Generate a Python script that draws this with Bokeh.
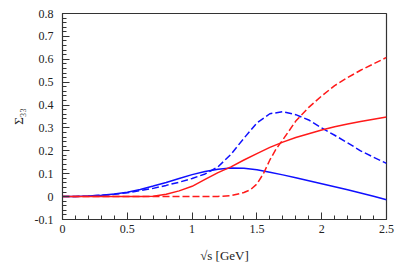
from bokeh.plotting import figure
from bokeh.models import FixedTicker, Range1d
from bokeh.embed import file_html
from bokeh.resources import INLINE

# data
x_grid = [0.0, 0.1, 0.2, 0.3, 0.4, 0.5, 0.6, 0.7, 0.8, 0.9, 1.0, 1.1, 1.2, 1.3,
          1.4, 1.5, 1.6, 1.7, 1.8, 1.9, 2.0, 2.1, 2.2, 2.3, 2.4, 2.5]
blue_solid = [0.0, 0.001, 0.003, 0.006, 0.011, 0.019, 0.031, 0.046, 0.062, 0.079,
              0.096, 0.110, 0.120, 0.125, 0.124, 0.117, 0.106, 0.095, 0.082, 0.069,
              0.056, 0.043, 0.030, 0.016, 0.002, -0.014]
blue_dashed = [0.0, 0.001, 0.003, 0.006, 0.010, 0.017, 0.026, 0.036, 0.049, 0.063,
               0.079, 0.099, 0.130, 0.185, 0.255, 0.322, 0.362, 0.371, 0.358, 0.335,
               0.300, 0.268, 0.235, 0.200, 0.172, 0.145]
red_solid = [0.0, 0.0, 0.0, 0.0, 0.0, 0.0, 0.0005, 0.002, 0.010, 0.025,
             0.045, 0.075, 0.105, 0.130, 0.160, 0.188, 0.215, 0.238, 0.258, 0.275,
             0.291, 0.305, 0.317, 0.328, 0.338, 0.348]
x_red_dashed = [0.0, 0.5, 1.0, 1.2, 1.3, 1.4, 1.45, 1.5, 1.55, 1.6, 1.65, 1.7,
                1.8, 1.9, 2.0, 2.1, 2.2, 2.3, 2.4, 2.5]
red_dashed = [0.0, 0.0, 0.0, 0.001, 0.004, 0.018, 0.030, 0.055, 0.100, 0.160, 0.210,
              0.248, 0.330, 0.390, 0.440, 0.485, 0.520, 0.552, 0.580, 0.608]

x_ticks = [0, 0.5, 1.0, 1.5, 2.0, 2.5]
x_tick_labels = ["0", "0.5", "1", "1.5", "2", "2.5"]
y_ticks = [-0.1, 0.0, 0.1, 0.2, 0.3, 0.4, 0.5, 0.6, 0.7, 0.8]
y_tick_labels = ["-0.1", "0", "0.1", "0.2", "0.3", "0.4", "0.5", "0.6", "0.7", "0.8"]

FONT = "Liberation Serif"

p = figure(width=405, height=265, output_backend="svg", toolbar_location=None,
           x_range=Range1d(0, 2.5), y_range=Range1d(-0.1, 0.8),
           min_border_left=62, min_border_right=19, min_border_top=13,
           min_border_bottom=46)
p.frame_width = 324
p.frame_height = 206

p.line(x_grid, blue_solid, line_color="#1010ff", line_width=1.5)
p.line(x_grid, blue_dashed, line_color="#1010ff", line_width=1.5, line_dash="7 3")
p.line(x_grid, red_solid, line_color="#ff1a1a", line_width=1.5)
p.line(x_red_dashed, red_dashed, line_color="#ff1a1a", line_width=1.5, line_dash="7 3")

p.xgrid.visible = False
p.ygrid.visible = False
p.outline_line_color = "#333333"
p.outline_line_width = 1.2

minor_x = [round(0.1 * i, 2) for i in range(26) if i % 5 != 0]
minor_y = [round(-0.1 + 0.02 * i, 3) for i in range(46) if i % 5 != 0]
p.xaxis.ticker = FixedTicker(ticks=x_ticks, minor_ticks=minor_x)
p.yaxis.ticker = FixedTicker(ticks=y_ticks, minor_ticks=minor_y)
p.xaxis.major_label_overrides = {t: l for t, l in zip(x_ticks, x_tick_labels)}
p.yaxis.major_label_overrides = {t: l for t, l in zip(y_ticks, y_tick_labels)}

for ax in (p.xaxis, p.yaxis):
    ax.major_tick_in = 7
    ax.major_tick_out = 0
    ax.minor_tick_in = 4
    ax.minor_tick_out = 0
    ax.axis_line_color = "#333333"
    ax.major_tick_line_color = "#333333"
    ax.minor_tick_line_color = "#333333"
    ax.major_label_text_font = FONT
    ax.major_label_text_font_size = "12px"
    ax.major_label_text_color = "#222222"
    ax.axis_label_text_font = FONT
    ax.axis_label_text_font_size = "13px"
    ax.axis_label_text_font_style = "normal"
    ax.axis_label_text_color = "#222222"

p.xaxis.major_label_standoff = 5
p.yaxis.major_label_standoff = 9
p.xaxis.axis_label = "√s [GeV]"
p.yaxis.axis_label = "Σ₃₃"
p.xaxis.axis_label_standoff = 12
p.yaxis.axis_label_standoff = 6

open("out.html", "w").write(file_html(p, INLINE))
